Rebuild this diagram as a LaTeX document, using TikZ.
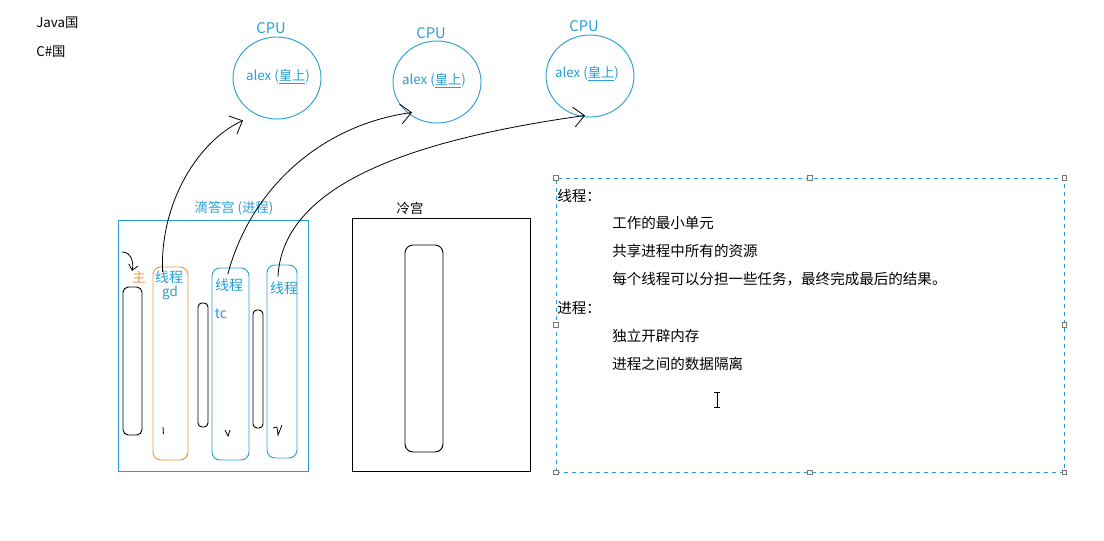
\documentclass[tikz,border=0pt]{standalone}
\usepackage{fontspec}
\setmainfont{Noto Sans CJK SC}
\usetikzlibrary{arrows.meta,shapes.geometric}
\definecolor{cpublue}{RGB}{40,158,212}
\definecolor{thorange}{RGB}{232,150,62}
\definecolor{handlegray}{RGB}{120,120,120}
\begin{document}
\begin{tikzpicture}[x=0.75pt,y=-0.75pt,
  every node/.style={inner sep=0pt},
  cpu/.style={draw=cpublue,line width=0.7pt,ellipse,minimum width=66pt,minimum height=61.5pt},
  bluetxt/.style={text=cpublue,font=\fontsize{10}{12}\selectfont},
  pillk/.style={draw=black,line width=0.7pt,rounded corners=4pt,rectangle},
  pillb/.style={draw=cpublue,line width=0.7pt,rounded corners=6pt,rectangle},
  pillo/.style={draw=thorange,line width=0.7pt,rounded corners=6pt,rectangle},
  hand/.style={draw=black,line width=0.6pt,-{Straight Barb[length=8pt,width=15pt]}},
  note/.style={anchor=west,font=\fontsize{10.9}{12}\selectfont},
  handle/.style={draw=handlegray,fill=white,line width=0.5pt,rectangle,minimum size=3.5pt}
]
\useasboundingbox (0,0) rectangle (1104,540);

% top-left labels
\node[anchor=west,font=\fontsize{10}{12}\selectfont] (java) at (36,23) {Java国};
\node[anchor=west,font=\fontsize{10}{12}\selectfont] (cs) at (36,52) {C\#国};

% CPUs
\node[cpu] (c1) at (277,78) {};
\node[cpu] (c2) at (437,82) {};
\node[cpu] (c3) at (590,76) {};
\node[bluetxt,font=\fontsize{11}{13}\selectfont] (cpu1) at (271,28) {CPU};
\node[bluetxt,font=\fontsize{11}{13}\selectfont] (cpu2) at (431,33) {CPU};
\node[bluetxt,font=\fontsize{11}{13}\selectfont] (cpu3) at (584,26) {CPU};
\node[bluetxt] (a1) at (278,77) {alex (\underline{皇上})};
\node[bluetxt] (a2) at (434,81) {alex (\underline{皇上})};
\node[bluetxt] (a3) at (587,74) {alex (\underline{皇上})};

% process box
\node[draw=cpublue,line width=0.7pt,rectangle,minimum width=142.5pt,minimum height=188.25pt] (proc) at (213,345.5) {};
\node[bluetxt] (proclabel) at (234,208) {滴答宫 (进程)};

% pills in process
\node[pillk,minimum width=14.25pt,minimum height=111pt] (b1) at (132.5,361) {};
\node[pillo,minimum width=26.25pt,minimum height=144.75pt] (t1) at (170.5,363.5) {};
\node[pillk,rounded corners=3pt,minimum width=7.5pt,minimum height=93pt] (b2) at (203,365) {};
\node[pillb,minimum width=27.75pt,minimum height=144pt] (t2) at (230.5,364) {};
\node[pillk,rounded corners=3pt,minimum width=7.5pt,minimum height=88.5pt] (b3) at (258,369) {};
\node[pillb,minimum width=22.5pt,minimum height=144.75pt] (t3) at (282,361.5) {};

\node[text=thorange,font=\fontsize{10}{12}\selectfont] (zhu) at (139,277) {主};
\node[bluetxt,font=\fontsize{10.5}{12}\selectfont] (tl1) at (169,277) {线程};
\node[bluetxt,font=\fontsize{10}{12}\selectfont] (gd) at (170,293) {gd};
\node[bluetxt,font=\fontsize{10.5}{12}\selectfont] (tl2) at (229,285) {线程};
\node[bluetxt,font=\fontsize{10.5}{12}\selectfont] (tc) at (221,314) {tc};
\node[bluetxt,font=\fontsize{10.5}{12}\selectfont] (tl3) at (284,288) {线程};

% small scribbles at the bottom of the threads
\draw[line width=0.6pt] (163,427) -- (163.5,434);
\draw[line width=0.6pt] (225,430) -- (228,436) -- (230,430);
\draw[line width=0.6pt] (273,428) -- (277,427) -- (278,435) -- (282,425);

% small arrow to 主
\coordinate (zs) at (122,252);
\draw[line width=0.6pt,-{Straight Barb[length=4pt,width=7pt]}] (zs) .. controls (131,252) and (134,262) .. (zhu.north west);

% cold palace
\node[draw=black,line width=0.7pt,rectangle,minimum width=133.5pt,minimum height=189.75pt] (cold) at (441,344.5) {};
\node[font=\fontsize{10}{12}\selectfont] (coldlabel) at (410,208) {冷宫};
\node[pillk,rounded corners=6pt,minimum width=28.5pt,minimum height=155.25pt] (cp) at (424,348.5) {};

% arrows threads -> CPUs
\draw[hand] ([xshift=-6pt,yshift=-4pt]t1.north) .. controls (160,200) and (200,140) .. ([xshift=-25.5pt,yshift=-0.75pt]c1.south);
\draw[hand] ([xshift=-2pt,yshift=-5pt]t2.north) .. controls (250,190) and (320,125) .. ([xshift=-18.75pt,yshift=8.25pt]c2.south);
\draw[hand] ([xshift=-3pt,yshift=-9pt]t3.north) .. controls (283,180) and (425,138) .. ([xshift=-3.75pt,yshift=1.5pt]c3.south);

% notes box
\node[draw=cpublue,dashed,line width=0.6pt,rectangle,minimum width=381pt,minimum height=220.5pt] (box) at (810,325) {};
\foreach \a in {north west,north,north east,west,east,south west,south,south east}
  \node[handle] at (box.\a) {};
\node[note] (n1) at (557,196) {线程：};
\node[note] (n2) at (612,223) {工作的最小单元};
\node[note] (n3) at (612,251) {共享进程中所有的资源};
\node[note] (n4) at (612,279) {每个线程可以分担一些任务，最终完成最后的结果。};
\node[note] (n5) at (557,308) {进程：};
\node[note] (n6) at (612,336) {独立开辟内存};
\node[note] (n7) at (612,364) {进程之间的数据隔离};

% text cursor
\draw[line width=0.6pt] (717,392) -- (717,407) (714,392) -- (720,392) (714,407) -- (720,407);
\end{tikzpicture}
\end{document}
